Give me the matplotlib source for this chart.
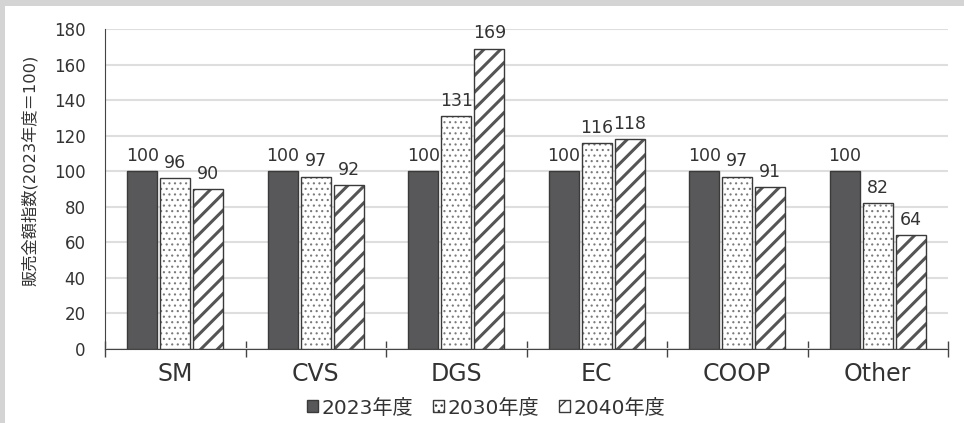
import matplotlib
matplotlib.use("Agg")
import matplotlib.pyplot as plt
from matplotlib.patches import Rectangle, Patch
import numpy as np

plt.rcParams['font.family'] = ['DejaVu Sans', 'Noto Sans CJK JP']

# sales index by channel (2023 = 100)
channels = ["SM", "CVS", "DGS", "EC", "COOP", "Other"]
years = ["2023年度", "2030年度", "2040年度"]
idx_2023 = [100, 100, 100, 100, 100, 100]
idx_2030 = [96, 97, 131, 116, 97, 82]
idx_2040 = [90, 92, 169, 118, 91, 64]
yticks = [0, 20, 40, 60, 80, 100, 120, 140, 160, 180]

text_col = "#333333"
outline = "#3a3a3a"
# fill colour, hatch, hatch colour, hatch line width
styles = [
    ("#58585a", None, "#58585a", 1.0),
    ("white", "...", "#7a7a7a", 0.8),
    ("white", "//", "#555555", 2.2),
]


def make_patch_hatch(p, hatch_lw):
    if hasattr(p, "set_hatch_linewidth"):
        p.set_hatch_linewidth(hatch_lw)


fig = plt.figure(figsize=(9.64, 4.23), dpi=100)
fig.patch.set_facecolor("#d4d4d4")
# white panel inside the grey frame
fig.add_artist(Rectangle((5 / 964, 0), 1, 1 - 6 / 423, transform=fig.transFigure,
                         facecolor="white", edgecolor="none", zorder=-10))

ax = fig.add_axes([105 / 964, 74 / 423, 843 / 964, 320 / 423])
ax.set_facecolor("none")

x = np.arange(len(channels))
width = 0.213
step = 0.235
handles = []
for i, (vals, (fc, hatch, hc, hlw)) in enumerate(
        zip([idx_2023, idx_2030, idx_2040], styles)):
    pos = x + (i - 1) * step
    with plt.rc_context({"hatch.linewidth": min(hlw, 1.0)}):
        h = Patch(facecolor=fc, edgecolor=outline, hatch=hatch, linewidth=1.0)
        make_patch_hatch(h, min(hlw, 1.0))
    with plt.rc_context({"hatch.linewidth": hlw}):
        bars = ax.bar(pos, vals, width, facecolor=fc, edgecolor=hc,
                      hatch=hatch, linewidth=0, zorder=3)
        for p in bars:
            make_patch_hatch(p, hlw)
    handles.append(h)
    # dark outline drawn over the hatched fill
    ax.bar(pos, vals, width, facecolor="none", edgecolor=outline,
           linewidth=1.0, zorder=4)
    for xp, v in zip(pos, vals):
        ax.annotate(str(v), (xp, v), xytext=(0, 4.5), textcoords="offset points",
                    ha="center", va="bottom", fontsize=12.5, color=text_col)

ax.set_xlim(-0.5, len(channels) - 0.5)
ax.set_ylim(0, 180)
ax.set_yticks(yticks)
ax.grid(axis="y", color="#dedede", linewidth=1.5, zorder=0)
ax.set_axisbelow(True)

for side in ["top", "right"]:
    ax.spines[side].set_visible(False)
ax.spines["left"].set_color("#444444")
ax.spines["bottom"].set_color("#444444")

ax.set_xticks(x)
ax.set_xticklabels(channels, fontsize=17, color=text_col)
ax.tick_params(axis="x", which="major", length=0, pad=9)
ax.set_xticks(np.arange(-0.5, len(channels)), minor=True)
ax.tick_params(axis="x", which="minor", direction="inout", length=12,
               color="#444444", width=1)
ax.tick_params(axis="y", length=0, pad=14, labelsize=12, labelcolor=text_col)

fig.text(30 / 964, 1 - 170 / 423, "販売金額指数(2023年度＝100)", rotation=90,
         ha="center", va="center", fontsize=11.7, color=text_col)

fig.legend(handles=handles, labels=years, loc="center",
           bbox_to_anchor=(486 / 964, 15 / 423), ncol=3, frameon=False,
           fontsize=14.5, handlelength=0.55, handleheight=0.55, handletextpad=0.15,
           columnspacing=1.0, labelcolor=text_col)

fig.savefig("out.png", dpi=100, facecolor=fig.get_facecolor())
